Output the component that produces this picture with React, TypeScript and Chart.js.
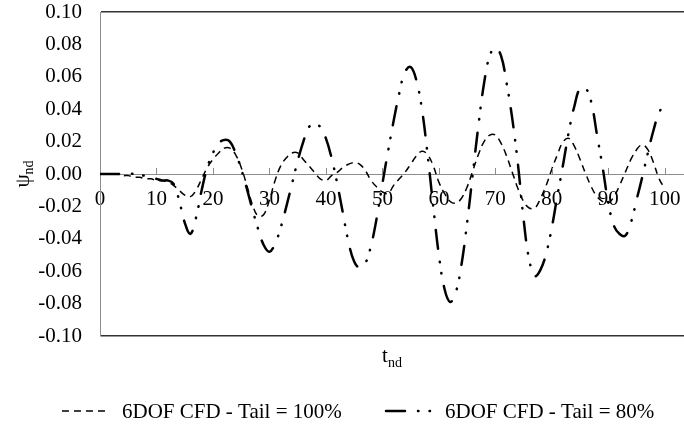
import { useEffect, useRef } from "react";
import { Chart, registerables } from "chart.js";

Chart.register(...registerables);

const tValues = [
  0, 1, 2, 3, 4, 5, 6, 7, 8, 9, 10, 11, 12, 13, 14, 15, 16, 17, 18, 19, 20,
  21, 22, 23, 24, 25, 26, 27, 28, 29, 30, 31, 32, 33, 34, 35, 36, 37, 38, 39, 40,
  41, 42, 43, 44, 45, 46, 47, 48, 49, 50, 51, 52, 53, 54, 55, 56, 57, 58, 59, 60,
  61, 62, 63, 64, 65, 66, 67, 68, 69, 70, 71, 72, 73, 74, 75, 76, 77, 78, 79, 80,
  81, 82, 83, 84, 85, 86, 87, 88, 89, 90, 91, 92, 93, 94, 95, 96, 97, 98, 99, 100,
];

const tail100 = [
  0, 0, 0, 0, -0.001, -0.001, -0.002, -0.002, -0.003, -0.003, -0.004,
  -0.004, -0.005, -0.007, -0.01, -0.013, -0.014, -0.01, -0.003, 0.004, 0.009,
  0.013, 0.016, 0.016, 0.012, 0.004, -0.007, -0.019, -0.026, -0.025, -0.016,
  -0.004, 0.005, 0.01, 0.013, 0.013, 0.009, 0.005, 0.001, -0.003, -0.004,
  -0.001, 0.001, 0.004, 0.006, 0.007, 0.006, 0.002, -0.004, -0.008, -0.011,
  -0.012, -0.007, -0.003, 0.001, 0.006, 0.011, 0.014, 0.012, 0.005, -0.005,
  -0.012, -0.017, -0.018, -0.015, -0.008, 0.002, 0.012, 0.02, 0.024, 0.024,
  0.019, 0.011, 0.001, -0.009, -0.017, -0.021, -0.021, -0.015, -0.007, 0.003,
  0.012, 0.02, 0.022, 0.017, 0.009, 0.0, -0.008, -0.014, -0.017, -0.018,
  -0.014, -0.007, 0.001, 0.009, 0.015, 0.018, 0.015, 0.007, -0.003, -0.009,
];

const tail80 = [
  0, 0, 0, 0, 0, 0, 0, -0.001, -0.001, -0.002, -0.003,
  -0.004, -0.004, -0.006, -0.016, -0.03, -0.037, -0.027, -0.01, 0.004, 0.013,
  0.019, 0.021, 0.02, 0.013, 0.003, -0.009, -0.022, -0.034, -0.044, -0.048,
  -0.043, -0.033, -0.02, -0.006, 0.008, 0.02, 0.029, 0.031, 0.029, 0.022,
  0.01, -0.006, -0.024, -0.042, -0.054, -0.058, -0.055, -0.044, -0.027, -0.006,
  0.014, 0.033, 0.05, 0.063, 0.066, 0.058, 0.04, 0.012, -0.02, -0.05,
  -0.071, -0.079, -0.073, -0.056, -0.03, 0.0, 0.03, 0.056, 0.073, 0.078,
  0.073, 0.056, 0.034, 0.006, -0.028, -0.053, -0.063, -0.059, -0.049, -0.033,
  -0.013, 0.006, 0.026, 0.042, 0.053, 0.053, 0.044, 0.024, 0.004, -0.018,
  -0.032, -0.037, -0.038, -0.03, -0.016, -0.002, 0.013, 0.027, 0.038, 0.043,
];

const xTickValues = [0, 10, 20, 30, 40, 50, 60, 70, 80, 90, 100];
const yTickValues = [-0.1, -0.08, -0.06, -0.04, -0.02, 0, 0.02, 0.04, 0.06, 0.08, 0.1];
const seriesLabels = ["6DOF CFD - Tail = 100%", "6DOF CFD - Tail = 80%"];
const xTitle = ["t", "nd"];
const yTitle = ["\u03c8", "nd"];

const FONT = '"Liberation Serif", "Times New Roman", serif';
const DASH100 = [7, 5];
const DASH80 = [19, 13, 0.5, 11, 0.5, 13];

const decorPlugin = {
  id: "decor",
  afterDraw(chart: any) {
    const ctx = chart.ctx as CanvasRenderingContext2D;
    const xs = chart.scales.x;
    const ys = chart.scales.y;
    const y0 = ys.getPixelForValue(0);

    // upward tick marks on the zero line
    ctx.save();
    ctx.strokeStyle = "#8c8c8c";
    ctx.lineWidth = 1;
    xTickValues.forEach((v) => {
      if (v === 0) return;
      const px = Math.round(xs.getPixelForValue(v)) + 0.5;
      ctx.beginPath();
      ctx.moveTo(px, Math.round(y0) - 6);
      ctx.lineTo(px, Math.round(y0));
      ctx.stroke();
    });
    ctx.restore();

    ctx.save();
    ctx.fillStyle = "#000";
    ctx.textBaseline = "alphabetic";
    ctx.textAlign = "left";

    // x axis title
    ctx.font = `21px ${FONT}`;
    const cx = (chart.chartArea.left + chart.chartArea.right) / 2;
    const wt = ctx.measureText(xTitle[0]).width;
    ctx.font = `14px ${FONT}`;
    const wsub = ctx.measureText(xTitle[1]).width;
    const startX = cx - (wt + wsub) / 2;
    ctx.font = `21px ${FONT}`;
    ctx.fillText(xTitle[0], startX, 362);
    ctx.font = `14px ${FONT}`;
    ctx.fillText(xTitle[1], startX + wt, 367);

    // y axis title (rotated)
    ctx.save();
    const cy = (chart.chartArea.top + chart.chartArea.bottom) / 2;
    ctx.font = `21px ${FONT}`;
    const wp = ctx.measureText(yTitle[0]).width;
    ctx.font = `14px ${FONT}`;
    const wps = ctx.measureText(yTitle[1]).width;
    ctx.translate(29, cy + (wp + wps) / 2);
    ctx.rotate(-Math.PI / 2);
    ctx.font = `21px ${FONT}`;
    ctx.fillText(yTitle[0], 0, 0);
    ctx.font = `14px ${FONT}`;
    ctx.fillText(yTitle[1], wp, 4);
    ctx.restore();

    // legend
    const ly = 411;
    ctx.strokeStyle = "#000";
    ctx.lineWidth = 1.5;
    ctx.setLineDash(DASH100);
    ctx.beginPath();
    ctx.moveTo(62, ly);
    ctx.lineTo(110, ly);
    ctx.stroke();
    ctx.lineWidth = 2.5;
    ctx.lineCap = "round";
    ctx.setLineDash(DASH80);
    ctx.beginPath();
    ctx.moveTo(386, ly);
    ctx.lineTo(434, ly);
    ctx.stroke();
    ctx.setLineDash([]);
    ctx.lineCap = "butt";
    ctx.font = `21px ${FONT}`;
    ctx.fillText(seriesLabels[0], 122, 418);
    ctx.fillText(seriesLabels[1], 445, 418);
    ctx.restore();
  },
};

export default function App() {
  const ref = useRef<HTMLCanvasElement | null>(null);

  useEffect(() => {
    const canvas = ref.current;
    if (!canvas) return;
    const chart = new Chart(canvas, {
      type: "line",
      data: {
        datasets: [
          {
            label: seriesLabels[0],
            data: tValues.map((t, i) => ({ x: t, y: tail100[i] })),
            borderColor: "#000",
            borderWidth: 1.5,
            borderDash: DASH100,
            pointRadius: 0,
            tension: 0.4,
            fill: false,
          },
          {
            label: seriesLabels[1],
            data: tValues.map((t, i) => ({ x: t, y: tail80[i] })),
            borderColor: "#000",
            borderWidth: 2.5,
            borderDash: DASH80,
            borderCapStyle: "round",
            pointRadius: 0,
            tension: 0.4,
            fill: false,
          },
        ],
      },
      options: {
        animation: false,
        responsive: false,
        maintainAspectRatio: false,
        layout: { padding: { top: 12, bottom: 91, left: 0, right: 0 } },
        plugins: { legend: { display: false }, tooltip: { enabled: false } },
        scales: {
          x: {
            type: "linear",
            min: 0,
            max: 103.4,
            position: { y: 0 } as any,
            afterBuildTicks: (s: any) => {
              s.ticks = xTickValues.map((v) => ({ value: v }));
            },
            afterFit: (s: any) => {
              s.paddingLeft = 0;
              s.paddingRight = 0;
            },
            grid: { display: false, drawTicks: false },
            border: { color: "#8c8c8c", width: 1 },
            ticks: {
              padding: 13,
              color: "#000",
              autoSkip: false,
              maxRotation: 0,
              font: { family: FONT, size: 21 },
              callback: (v: any) => String(v),
            },
          },
          y: {
            type: "linear",
            min: -0.1,
            max: 0.1,
            afterBuildTicks: (s: any) => {
              s.ticks = yTickValues.map((v) => ({ value: v }));
            },
            afterFit: (s: any) => {
              s.width = 100;
              s.paddingTop = 0;
              s.paddingBottom = 0;
            },
            grid: {
              drawTicks: false,
              lineWidth: 1.5,
              color: (c: any) =>
                c.tick && Math.abs(Math.abs(c.tick.value) - 0.1) < 1e-9 ? "#333" : "rgba(0,0,0,0)",
            },
            border: { color: "#8c8c8c", width: 1 },
            ticks: {
              padding: 18,
              color: "#000",
              font: { family: FONT, size: 21 },
              callback: (v: any) => (Math.abs(v) < 1e-9 ? "0.00" : Number(v).toFixed(2)),
            },
          },
        },
      },
      plugins: [decorPlugin],
    });
    return () => chart.destroy();
  }, []);

  return (
    <div style={{ position: "fixed", left: 0, top: 0, width: 684, height: 427, overflow: "hidden", background: "#fff" }}>
      <canvas ref={ref} width={684} height={427} style={{ display: "block", width: 684, height: 427 }} />
    </div>
  );
}
